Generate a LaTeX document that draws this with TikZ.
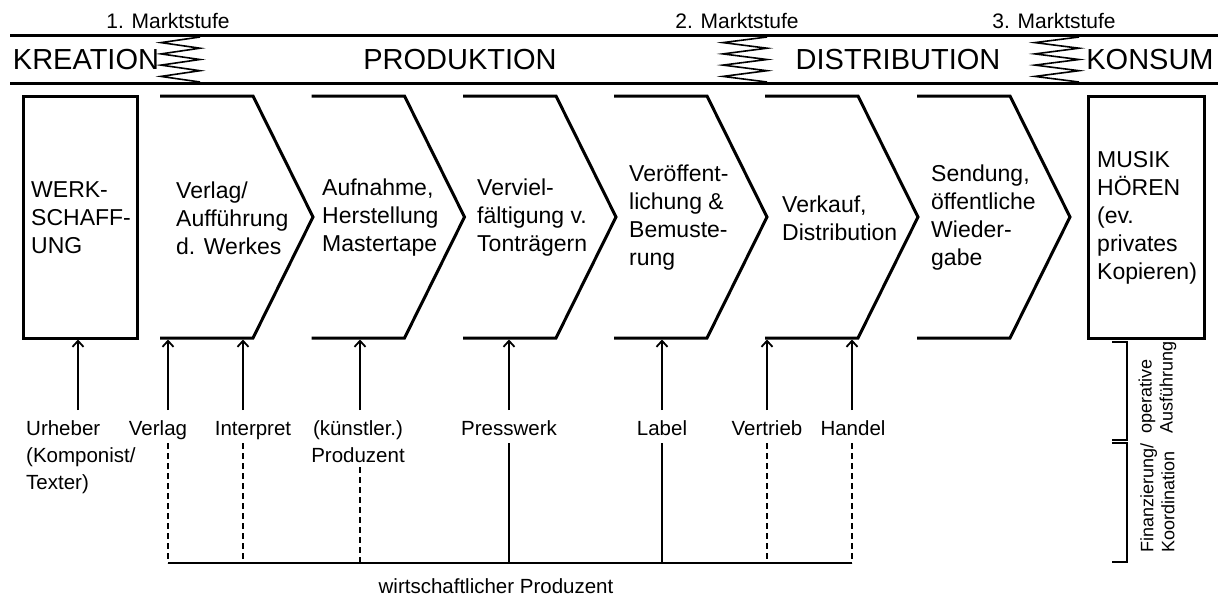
\documentclass[tikz,border=0pt]{standalone}
\usepackage{fontspec}
\setmainfont{Liberation Sans}
\usetikzlibrary{arrows.meta}
\begin{document}
\begin{tikzpicture}[x=1pt,y=-1pt,
  shapeline/.style={line width=3pt, line join=miter},
  barline/.style={line width=3pt},
  zzline/.style={line width=1.6pt, line join=miter},
  arr/.style={line width=2pt,-{Straight Barb[length=6pt,width=11pt,line width=1.8pt]}},
  solidln/.style={line width=2pt},
  dashln/.style={line width=2pt,dash pattern=on 6pt off 4pt},
  brk/.style={line width=2.4pt},
  head/.style={font=\fontsize{29}{34}\selectfont, inner sep=0pt},
  stage/.style={font=\fontsize{21}{25}\selectfont, inner sep=0pt},
  boxtext/.style={font=\fontsize{23}{28}\selectfont, align=left, anchor=west, inner sep=0pt},
  actor/.style={font=\fontsize{20.5}{27}\selectfont, inner sep=0pt, anchor=base},
  side/.style={font=\fontsize{18}{21}\selectfont, align=left, rotate=90, anchor=west, inner sep=0pt}
]
\useasboundingbox (0,0) rectangle (1221,598);

% top bar
\coordinate (barTL) at (10,35);
\coordinate (barTR) at (1218,35);
\coordinate (barBL) at (10,83);
\coordinate (barBR) at (1218,83);
\draw[barline] (barTL) -- (barTR);
\draw[barline] (barBL) -- (barBR);

% zigzags
\foreach \xl/\xr in {161/200, 723/767, 1035/1079}{
  \draw[zzline] (\xr,37) -- (\xl,42.6) -- (\xr,48.2) -- (\xl,53.9) -- (\xr,59.5)
     -- (\xl,65.1) -- (\xr,70.7) -- (\xl,76.4) -- (\xr,82);
}

% stage labels
\node[stage] (m1) at (168,21) {1. Marktstufe};
\node[stage] (m2) at (737,21) {2. Marktstufe};
\node[stage] (m3) at (1054,21) {3. Marktstufe};

% header texts
\node[head] (hK) at (86,60) {KREATION};
\node[head] (hP) at (460,60) {PRODUKTION};
\node[head] (hD) at (898,60) {DISTRIBUTION};
\node[head] (hC) at (1150,60) {KONSUM};

% boxes
\draw[shapeline] (23,96) rectangle (137,338);
\draw[shapeline] (1088,96) rectangle (1204,338);
\foreach \x in {160,311.5,463,614,765,917}{
  \draw[shapeline] (\x,96) -- ({\x+93},96) -- ({\x+153},217) -- ({\x+93},338) -- (\x,338);
}

% box texts
\node[boxtext] (t0) at (31,218) {WERK-\\SCHAFF-\\UNG};
\node[boxtext] (t1) at (176,218) {Verlag/\\Aufführung\\d. Werkes};
\node[boxtext] (t2) at (322,218) {Aufnahme,\\Herstellung\\Mastertape};
\node[boxtext] (t3) at (477,218) {Verviel-\\fältigung v.\\Tonträgern};
\node[boxtext] (t4) at (629,218) {Veröffent-\\lichung \&\\Bemuste-\\rung};
\node[boxtext] (t5) at (782,218) {Verkauf,\\Distribution};
\node[boxtext] (t6) at (931,218) {Sendung,\\öffentliche\\Wieder-\\gabe};
\node[boxtext] (t7) at (1097,218) {MUSIK\\HÖREN\\(ev.\\privates\\Kopieren)};

% arrows
\foreach \n/\x in {urh/78, ver/168, int/243, kue/360, pre/509, lab/662, vtr/767, han/852}{
  \coordinate (\n S) at (\x,410);
  \coordinate (\n E) at (\x,339.5);
  \draw[arr] (\n S) -- (\n E);
}

% actor labels
\node[actor, anchor=north west, align=left] (urh) at (26,420) {Urheber\\(Komponist/\\Texter)};
\node[actor] (ver) at (158,435) {Verlag};
\node[actor] (int) at (253,435) {Interpret};
\node[actor, anchor=north, align=center] (kue) at (358,420) {(künstler.)\\Produzent};
\node[actor] (pre) at (509,435) {Presswerk};
\node[actor] (lab) at (662,435) {Label};
\node[actor] (vtr) at (767,435) {Vertrieb};
\node[actor] (han) at (853,435) {Handel};
\node[actor] (wirt) at (496,593) {wirtschaftlicher Produzent};

% lines to wirtschaftlicher Produzent
\coordinate (verT) at (168,443);  \coordinate (verB) at (168,563);
\coordinate (intT) at (243,443);  \coordinate (intB) at (243,563);
\coordinate (kueT) at (360,467);  \coordinate (kueB) at (360,563);
\coordinate (preT) at (509,443);  \coordinate (preB) at (509,563);
\coordinate (labT) at (662,443);  \coordinate (labB) at (662,563);
\coordinate (vtrT) at (767,443);  \coordinate (vtrB) at (767,563);
\coordinate (hanT) at (852,443);  \coordinate (hanB) at (852,563);
\draw[dashln] (verT) -- (verB);
\draw[dashln] (intT) -- (intB);
\draw[dashln] (kueT) -- (kueB);
\draw[solidln] (preT) -- (preB);
\draw[solidln] (labT) -- (labB);
\draw[dashln] (vtrT) -- (vtrB);
\draw[dashln] (hanT) -- (hanB);
\draw[solidln] (verB) -- (hanB);

% side brackets
\draw[brk] (1112,342) -- (1127,342) -- (1127,440) -- (1112,440);
\draw[brk] (1112,443) -- (1127,443) -- (1127,562) -- (1112,562);
\node[side] (op) at (1157.5,434) {operative\\Ausführung};
\node[side] (fin) at (1157.5,553) {Finanzierung/\\Koordination};
\end{tikzpicture}
\end{document}
